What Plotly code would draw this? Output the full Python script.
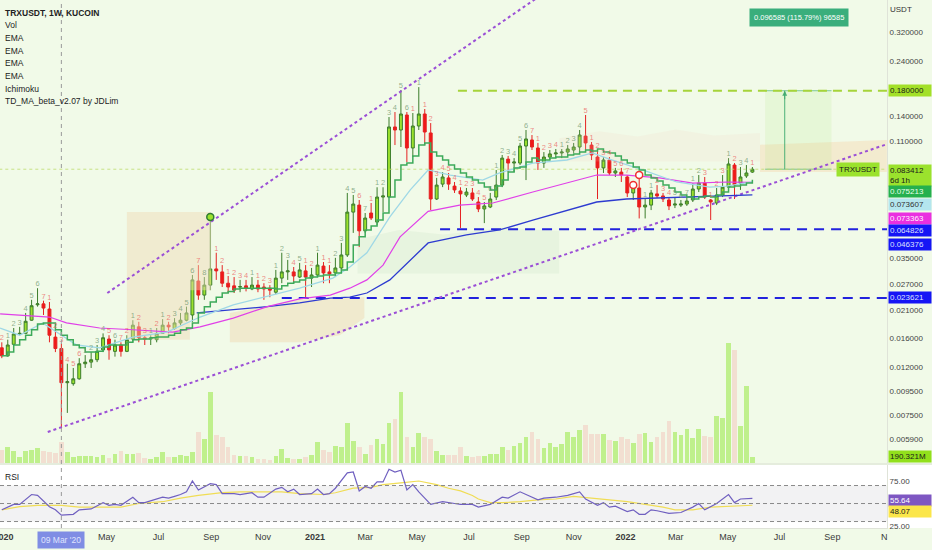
import math
import pandas as pd
import plotly.graph_objects as go

# ---------------- data ----------------
first_week = "2019-12-30"

opens = [0.0145, 0.0134, 0.0150, 0.0166, 0.0167, 0.0190, 0.0221, 0.0223, 0.0212, 0.0161,
         0.0144, 0.0103, 0.0102, 0.0107, 0.0124, 0.0126, 0.0129, 0.0142, 0.0158, 0.0140,
         0.0149, 0.0140, 0.0158, 0.0178, 0.0160, 0.0158, 0.0157, 0.0167, 0.0181, 0.0175,
         0.0185, 0.0190, 0.0200, 0.0279, 0.0243, 0.0268, 0.0314, 0.0305, 0.0273, 0.0266,
         0.0263, 0.0266, 0.0258, 0.0268, 0.0263, 0.0260, 0.0250, 0.0287, 0.0305, 0.0305,
         0.0290, 0.0308, 0.0287, 0.0296, 0.0323, 0.0305, 0.0302, 0.0317, 0.0360, 0.0548,
         0.0587, 0.0456, 0.0543, 0.0497, 0.0635, 0.0635, 0.1262, 0.1225, 0.1419, 0.1027,
         0.1274, 0.1433, 0.1190, 0.0623, 0.0721, 0.0766, 0.0707, 0.0674, 0.0648, 0.0661,
         0.0605, 0.0565, 0.0576, 0.0635, 0.0714, 0.0921, 0.0886, 0.0886, 0.1047, 0.1111,
         0.1027, 0.0886, 0.0940, 0.0969, 0.0978, 0.0987, 0.1007, 0.1037, 0.1154, 0.1057,
         0.0940, 0.0845, 0.0913, 0.0804, 0.0811, 0.0773, 0.0661, 0.0694, 0.0576, 0.0587,
         0.0655, 0.0642, 0.0617, 0.0587, 0.0587, 0.0593, 0.0617, 0.0687, 0.0728, 0.0617,
         0.0599, 0.0648, 0.0700, 0.0869, 0.0728, 0.0781, 0.0811]
highs = [0.0153, 0.0157, 0.0176, 0.0178, 0.0204, 0.0232, 0.0260, 0.0230, 0.0227, 0.0173,
         0.0151, 0.0124, 0.0119, 0.0131, 0.0135, 0.0139, 0.0149, 0.0167, 0.0164, 0.0157,
         0.0153, 0.0164, 0.0190, 0.0187, 0.0164, 0.0164, 0.0176, 0.0192, 0.0187, 0.0194,
         0.0204, 0.0217, 0.0296, 0.0326, 0.0290, 0.0522, 0.0368, 0.0326, 0.0293, 0.0290,
         0.0282, 0.0282, 0.0290, 0.0282, 0.0273, 0.0268, 0.0311, 0.0368, 0.0343, 0.0320,
         0.0333, 0.0326, 0.0317, 0.0368, 0.0336, 0.0326, 0.0350, 0.0405, 0.0661, 0.0648,
         0.0617, 0.0543, 0.0599, 0.0699, 0.0699, 0.1391, 0.1461, 0.1813, 0.1461, 0.1447,
         0.1865, 0.1505, 0.1311, 0.0766, 0.0811, 0.0804, 0.0736, 0.0699, 0.0694, 0.0694,
         0.0635, 0.0605, 0.0661, 0.0828, 0.0959, 0.0950, 0.0930, 0.1079, 0.1225, 0.1166,
         0.1079, 0.0987, 0.1007, 0.1017, 0.1017, 0.1057, 0.1079, 0.1225, 0.1419, 0.1089,
         0.1007, 0.0940, 0.0940, 0.0845, 0.0845, 0.0788, 0.0714, 0.0788, 0.0623, 0.0681,
         0.0714, 0.0661, 0.0635, 0.0635, 0.0617, 0.0635, 0.0728, 0.0788, 0.0773, 0.0623,
         0.0694, 0.0788, 0.0930, 0.0886, 0.0852, 0.0869, 0.0852]
lows = [0.0131, 0.0133, 0.0149, 0.0164, 0.0167, 0.0189, 0.0217, 0.0200, 0.0153, 0.0139,
        0.0066, 0.00766, 0.0100, 0.0106, 0.0119, 0.0119, 0.0126, 0.0139, 0.0129, 0.0133,
        0.0133, 0.0139, 0.0153, 0.0153, 0.0149, 0.0149, 0.0153, 0.0166, 0.0167, 0.0173,
        0.0181, 0.0188, 0.0187, 0.0232, 0.0232, 0.0255, 0.0282, 0.0263, 0.0248, 0.0248,
        0.0250, 0.0252, 0.0255, 0.0250, 0.0232, 0.0238, 0.0245, 0.0273, 0.0282, 0.0273,
        0.0287, 0.0236, 0.0263, 0.0290, 0.0273, 0.0273, 0.0290, 0.0311, 0.0353, 0.0447,
        0.0389, 0.0447, 0.0507, 0.0483, 0.0548, 0.0629, 0.1057, 0.1037, 0.0895, 0.0940,
        0.1225, 0.1057, 0.0559, 0.0617, 0.0700, 0.0681, 0.0661, 0.0469, 0.0635, 0.0611,
        0.0548, 0.0492, 0.0570, 0.0617, 0.0700, 0.0811, 0.0811, 0.0869, 0.0750, 0.1007,
        0.0828, 0.0845, 0.0913, 0.0930, 0.0930, 0.0959, 0.0978, 0.0978, 0.0987, 0.0913,
        0.0623, 0.0804, 0.0788, 0.0773, 0.0736, 0.0635, 0.0617, 0.0515, 0.0515, 0.0559,
        0.0629, 0.0605, 0.0559, 0.0570, 0.0576, 0.0582, 0.0605, 0.0667, 0.0623, 0.0507,
        0.0587, 0.0635, 0.0694, 0.0623, 0.0681, 0.0766, 0.0804]
closes = [0.0134, 0.0149, 0.0166, 0.0167, 0.0188, 0.0219, 0.0223, 0.0214, 0.0164, 0.0144,
          0.0103, 0.0104, 0.0107, 0.0124, 0.0126, 0.0129, 0.0140, 0.0160, 0.0142, 0.0149,
          0.0140, 0.0157, 0.0181, 0.0160, 0.0158, 0.0160, 0.0167, 0.0181, 0.0178, 0.0185,
          0.0190, 0.0204, 0.0282, 0.0243, 0.0268, 0.0314, 0.0308, 0.0273, 0.0263, 0.0255,
          0.0264, 0.0260, 0.0268, 0.0258, 0.0258, 0.0255, 0.0287, 0.0305, 0.0308, 0.0293,
          0.0311, 0.0290, 0.0296, 0.0326, 0.0302, 0.0299, 0.0317, 0.0360, 0.0548, 0.0593,
          0.0456, 0.0517, 0.0517, 0.0635, 0.0642, 0.1262, 0.1225, 0.1433, 0.1027, 0.1274,
          0.1433, 0.1201, 0.0623, 0.0714, 0.0773, 0.0721, 0.0681, 0.0655, 0.0667, 0.0623,
          0.0565, 0.0582, 0.0623, 0.0714, 0.0930, 0.0886, 0.0895, 0.1047, 0.1122, 0.1037,
          0.0886, 0.0940, 0.0969, 0.0978, 0.0987, 0.1017, 0.1037, 0.1166, 0.1079, 0.0959,
          0.0845, 0.0913, 0.0804, 0.0820, 0.0788, 0.0661, 0.0700, 0.0576, 0.0587, 0.0661,
          0.0642, 0.0623, 0.0582, 0.0593, 0.0593, 0.0611, 0.0687, 0.0728, 0.0635, 0.0605,
          0.0648, 0.0700, 0.0878, 0.0714, 0.0773, 0.0804, 0.083412]
volume_m = [450, 523, 412, 211, 401, 445, 501, 390, 356, 334,
            690, 356, 189, 223, 223, 223, 189, 278, 156, 300,
            401, 289, 300, 334, 156, 134, 189, 367, 189, 189,
            267, 223, 378, 1024, 801, 2382, 935, 857, 523, 267,
            223, 223, 189, 134, 134, 100, 223, 467, 156, 134,
            134, 189, 267, 690, 434, 356, 579, 545, 1336, 746,
            523, 300, 601, 801, 634, 1336, 1469, 2382, 857, 523,
            1002, 857, 801, 412, 267, 267, 267, 523, 223, 189,
            223, 245, 300, 289, 523, 434, 579, 668, 857, 1024,
            801, 490, 668, 523, 634, 1046, 857, 1113, 1269, 968,
            968, 968, 779, 746, 857, 801, 668, 968, 1002, 712,
            857, 1024, 1391, 1024, 935, 1135, 824, 1135, 913, 857,
            1580, 1491, 4000, 3770, 1247, 2560, 190.321]
td_ma = [0.0134, 0.0139, 0.0149, 0.0157, 0.0164, 0.0173, 0.0183, 0.0185, 0.0185, 0.0173,
         0.0164, 0.0157, 0.0149, 0.0145, 0.0139, 0.0139, 0.0140, 0.0146, 0.0149, 0.0149,
         0.0149, 0.0153, 0.0157, 0.0158, 0.0158, 0.0160, 0.0161, 0.0161, 0.0164, 0.0167,
         0.0173, 0.0176, 0.0185, 0.0204, 0.0217, 0.0227, 0.0238, 0.0248, 0.0252, 0.0258,
         0.0260, 0.0260, 0.0260, 0.0260, 0.0260, 0.0260, 0.0258, 0.0266, 0.0273, 0.0276,
         0.0282, 0.0287, 0.0290, 0.0293, 0.0296, 0.0296, 0.0302, 0.0311, 0.0336, 0.0397,
         0.0430, 0.0460, 0.0478, 0.0507, 0.0543, 0.0635, 0.0750, 0.0869, 0.0886, 0.0950,
         0.1057, 0.1079, 0.0987, 0.0950, 0.0913, 0.0869, 0.0836, 0.0804, 0.0773, 0.0750,
         0.0728, 0.0700, 0.0681, 0.0707, 0.0750, 0.0811, 0.0845, 0.0852, 0.0895, 0.0930,
         0.0913, 0.0913, 0.0930, 0.0940, 0.0940, 0.0959, 0.0969, 0.0987, 0.1007, 0.0997,
         0.1017, 0.0987, 0.0978, 0.0950, 0.0913, 0.0886, 0.0852, 0.0828, 0.0788, 0.0766,
         0.0743, 0.0714, 0.0694, 0.0667, 0.0648, 0.0635, 0.0623, 0.0635, 0.0642, 0.0635,
         0.0648, 0.0667, 0.0700, 0.0707, 0.0714, 0.0728, 0.075213]

# TD count digits above the candles ("g" = grey-green, "r" = red)
td_count = ["2", "1", "2", "3", "4", "5", "6", "7", "1", "2",
            "3", "4", "5", "6", "1", "2", "3", "4", "5", "6",
            "7", "2", "1", "2", "3", "1", "2", "1", "2", "3",
            "4", "5", "6", "7", "8", "", "1", "2", "1", "2",
            "3", "4", "1", "1", "2", "3", "1", "2", "3", "4",
            "5", "1", "2", "1", "1", "1", "2", "3", "4", "5",
            "6", "7", "1", "1", "2", "3", "4", "5", "6", "1",
            "1", "1", "2", "3", "4", "5", "4", "1", "2", "3",
            "4", "5", "6", "1", "2", "3", "4", "5", "6", "7",
            "1", "2", "3", "4", "1", "2", "3", "4", "5", "1",
            "2", "3", "4", "5", "6", "7", "", "", "1", "1",
            "2", "3", "4", "5", "6", "7", "1", "2", "3", "1",
            "2", "3", "1", "2", "3", "4", "1"]
td_kind = ["r", "g", "g", "g", "g", "g", "g", "r", "r", "r",
           "r", "r", "r", "r", "g", "g", "g", "g", "r", "g",
           "r", "r", "g", "r", "r", "g", "r", "g", "r", "g",
           "g", "g", "g", "r", "g", "g", "r", "r", "r", "r",
           "r", "r", "g", "r", "r", "r", "g", "g", "g", "r",
           "g", "r", "r", "g", "r", "r", "g", "g", "g", "g",
           "r", "g", "r", "g", "g", "g", "g", "g", "g", "r",
           "g", "r", "r", "r", "r", "r", "r", "r", "r", "r",
           "r", "r", "g", "g", "g", "g", "g", "g", "g", "r",
           "r", "r", "r", "r", "g", "g", "g", "g", "r", "r",
           "r", "r", "r", "r", "r", "r", "r", "r", "g", "g",
           "r", "r", "r", "g", "g", "g", "g", "g", "r", "r",
           "r", "r", "g", "r", "g", "g", "r"]
td_circle_weeks = [36, 107, 108]
td_circle_kind = ["g", "r", "r"]

ema_light_dates = ["2019-12-28", "2020-01-20", "2020-02-16", "2020-03-27", "2020-04-23", "2020-06-01",
                   "2020-07-11", "2020-08-19", "2020-09-27", "2020-11-06", "2020-12-14", "2021-01-22",
                   "2021-02-11", "2021-03-03", "2021-03-30", "2021-04-23", "2021-05-14", "2021-06-09",
                   "2021-07-17", "2021-08-06", "2021-09-14", "2021-10-24", "2021-11-23", "2021-12-13",
                   "2022-01-21", "2022-03-02", "2022-04-10", "2022-04-30", "2022-05-30"]
ema_light = [0.0176, 0.0164, 0.0185, 0.0149, 0.0145, 0.0161, 0.0169, 0.0196, 0.0221, 0.0241,
             0.0260, 0.0287, 0.0320, 0.0368, 0.0523, 0.0681, 0.0828, 0.0788, 0.0750, 0.0804,
             0.0886, 0.0913, 0.0978, 0.0921, 0.0828, 0.0736, 0.0700, 0.0707, 0.073607]
ema_pink_dates = ["2019-12-28", "2020-02-24", "2020-03-15", "2020-04-23", "2020-06-01", "2020-07-18",
                  "2020-08-19", "2020-09-27", "2020-11-06", "2020-12-14", "2021-01-19", "2021-02-11",
                  "2021-03-03", "2021-03-22", "2021-04-11", "2021-05-14", "2021-06-20", "2021-07-29",
                  "2021-09-14", "2021-10-24", "2021-11-28", "2022-01-02", "2022-02-10", "2022-03-21",
                  "2022-04-30", "2022-05-30"]
ema_pink = [0.0202, 0.0196, 0.0185, 0.0176, 0.0173, 0.0169, 0.0178, 0.0194, 0.0217, 0.0234,
            0.0243, 0.0260, 0.0282, 0.0326, 0.0430, 0.0552, 0.0587, 0.0599, 0.0667, 0.0728,
            0.0788, 0.0788, 0.0766, 0.0728, 0.0736, 0.073363]
ema_blue_dates = ["2020-08-15", "2020-09-27", "2020-11-06", "2020-12-14", "2021-01-19", "2021-02-11",
                  "2021-03-03", "2021-03-30", "2021-04-23", "2021-05-14", "2021-06-28", "2021-08-06",
                  "2021-09-14", "2021-10-24", "2021-11-28", "2022-01-02", "2022-02-10", "2022-03-21",
                  "2022-04-30", "2022-05-30"]
ema_blue = [0.0204, 0.0210, 0.0217, 0.0225, 0.0236, 0.0238, 0.0248, 0.0282, 0.0343, 0.0405,
            0.0438, 0.0460, 0.0507, 0.0559, 0.0605, 0.0623, 0.0629, 0.0635, 0.0642, 0.064826]

rsi_weeks = [1, 3, 4, 6, 7, 9, 10, 11, 13, 14, 16, 18, 19, 20, 21, 23, 24, 25, 28, 29,
             30, 31, 32, 33, 34, 36, 37, 38, 40, 41, 43, 44, 45, 47, 48, 49, 50, 51, 53, 54,
             55, 56, 57, 59, 60, 61, 62, 63, 64, 65, 66, 67, 68, 69, 70, 71, 73, 75, 77, 78,
             80, 81, 83, 85, 86, 88, 91, 92, 94, 96, 98, 99, 101, 102, 103, 104, 106, 107, 108, 109,
             110, 111, 113, 115, 117, 118, 119, 121, 123, 124, 125, 127]
rsi_vals = [43, 49, 49, 60, 59, 46.5, 43, 37, 38, 43, 44, 51, 48, 49, 48, 57, 51, 51, 57, 56,
            58, 60, 63, 75, 65, 72, 71, 61, 61, 60, 62, 57, 57, 66, 68, 63, 66, 60, 61, 66,
            60, 61, 67, 84, 85, 64, 69, 67, 74, 74, 88, 85, 87, 65, 71, 63, 49, 52, 50, 49,
            49, 46, 49, 57, 56, 63, 54, 56, 57, 59, 63, 55, 48, 51, 46, 47, 41, 43, 38, 38,
            43, 42, 39, 40, 46, 50, 43, 50, 60, 51, 55, 55.64]
rsi_ma_weeks = [1, 4, 7, 11, 14, 17, 21, 24, 28, 31, 34, 38, 41, 45, 48, 51, 55, 57, 60, 63,
                65, 68, 71, 74, 76, 78, 80, 81, 83, 85, 88, 91, 94, 97, 100, 103, 106, 109, 112, 114,
                117, 120, 123, 127]
rsi_ma_vals = [43, 46.5, 48, 48, 46, 46, 46, 50, 52, 56, 59, 62, 63, 63, 63, 61, 60, 62, 67, 68,
               71, 73, 75, 71, 67, 64, 59, 55, 51, 51, 52, 54, 55, 58, 56, 54, 52, 49, 46, 43,
               43, 46, 47, 48.07]

price_ticks = [0.32, 0.24, 0.14, 0.11, 0.035, 0.027, 0.021, 0.016, 0.012, 0.0095, 0.0075, 0.0059]
time_ticks = ["2020-01-01", "2020-05-01", "2020-07-01", "2020-09-01", "2020-11-01", "2021-01-01",
              "2021-03-01", "2021-05-01", "2021-07-01", "2021-09-01", "2021-11-01", "2022-01-01",
              "2022-03-01", "2022-05-01", "2022-07-01", "2022-09-01", "2022-11-01"]
time_labels = ["<b>2020</b>", "May", "Jul", "Sep", "Nov", "<b>2021</b>", "Mar", "May", "Jul", "Sep",
               "Nov", "<b>2022</b>", "Mar", "May", "Jul", "Sep", "N"]

# drawings (dates / prices)
upper_channel_dates = ["2020-05-02", "2021-09-22"]
upper_channel_prices = [0.0248, 0.455]
lower_channel_dates = ["2020-02-22", "2022-11-04"]
lower_channel_prices = [0.006356, 0.1066]
level_target = 0.18
level_target_start = "2021-06-18"
level_mid = 0.046376
level_mid_start = "2021-05-28"
level_low = 0.023621
level_low_start = "2020-11-23"
last_price = 0.083412
measure_dates = ["2022-06-14", "2022-08-31"]
measure_arrow_date = "2022-07-07"
measure_label_date = "2022-07-24"
crosshair_date = "2020-03-09"

# Ichimoku cloud outlines (dates, prices)
cloud_a_dates = ["2020-05-25", "2020-09-01", "2020-09-01", "2020-08-07", "2020-08-07", "2020-05-25"]
cloud_a_prices = [0.0548, 0.0548, 0.0255, 0.0255, 0.0157, 0.0157]
cloud_b_dates = ["2020-09-23", "2020-12-14", "2021-02-28", "2021-02-28", "2021-01-30", "2020-12-14",
                 "2020-09-23"]
cloud_b_prices = [0.0204, 0.0232, 0.0238, 0.0194, 0.0164, 0.0153, 0.0153]
cloud_c_dates = ["2021-02-20", "2021-04-10", "2021-06-01", "2021-08-10", "2021-10-15",
                 "2021-10-15", "2021-02-20"]
cloud_c_prices = [0.0420, 0.0460, 0.0440, 0.0470, 0.0455, 0.0300, 0.0300]
cloud_d_dates = ["2021-10-15", "2021-12-01", "2022-01-15", "2022-03-01", "2022-04-15", "2022-06-08",
                 "2022-06-08", "2021-10-15"]
cloud_d_prices = [0.1130, 0.1210, 0.1150, 0.1230, 0.1160, 0.1190, 0.0900, 0.0900]
cloud_e_dates = ["2022-06-08", "2022-11-04", "2022-11-04", "2022-06-08"]
cloud_e_prices = [0.1060, 0.1110, 0.0811, 0.0811]

# ---------------- figure ----------------
dates = pd.date_range(first_week, periods=len(closes), freq="7D")
FONT = "Liberation Sans, Arial, sans-serif"
BG = "#f1fae8"
W, H, PLOT_W, PLOT_H = 932, 550, 887, 528

fig = go.Figure()


def cloud(xs, ys, color):
    fig.add_trace(go.Scatter(x=xs, y=ys, fill="toself", fillcolor=color, mode="none",
                             yaxis="y", hoverinfo="skip", showlegend=False))


cloud(cloud_a_dates, cloud_a_prices, "rgba(240,218,180,0.45)")
cloud(cloud_b_dates, cloud_b_prices, "rgba(240,218,180,0.50)")
cloud(cloud_c_dates, cloud_c_prices, "rgba(150,195,150,0.10)")
cloud(cloud_d_dates, cloud_d_prices, "rgba(240,210,190,0.16)")
cloud(cloud_e_dates, cloud_e_prices, "rgba(246,205,160,0.35)")

# volume
vol_colors = ["rgba(165,235,90,0.65)" if c >= o else "rgba(242,200,190,0.55)" for o, c in zip(opens, closes)]
fig.add_trace(go.Bar(x=dates, y=volume_m, marker=dict(color=vol_colors, line=dict(width=0)),
                     width=7 * 24 * 3600 * 1000 * 0.78, yaxis="y2", hoverinfo="skip", showlegend=False))

# measurement box
fig.add_trace(go.Scatter(x=[measure_dates[0], measure_dates[1], measure_dates[1], measure_dates[0]],
                         y=[last_price, last_price, level_target, level_target], fill="toself",
                         fillcolor="rgba(185,232,140,0.18)", mode="none", yaxis="y", showlegend=False))
for lvl in (last_price, level_target):
    fig.add_trace(go.Scatter(x=measure_dates, y=[lvl, lvl], mode="lines",
                             line=dict(color="rgba(80,180,120,0.7)", width=1), yaxis="y", showlegend=False))
fig.add_trace(go.Scatter(x=[measure_arrow_date, measure_arrow_date], y=[last_price, level_target], mode="lines",
                         line=dict(color="rgba(60,170,110,0.9)", width=1), yaxis="y", showlegend=False))

# last price line
fig.add_trace(go.Scatter(x=[dates[0] - pd.Timedelta(days=10), "2022-11-10"], y=[last_price, last_price],
                         mode="lines", line=dict(color="rgba(190,220,110,0.8)", width=1, dash="dot"),
                         yaxis="y", showlegend=False))

# horizontal levels
fig.add_trace(go.Scatter(x=[level_target_start, "2022-11-10"], y=[level_target, level_target], mode="lines",
                         line=dict(color="#a6d43a", width=2, dash="9px,6px"), yaxis="y", showlegend=False))
fig.add_trace(go.Scatter(x=[level_mid_start, "2022-11-10"], y=[level_mid, level_mid], mode="lines",
                         line=dict(color="#2222dd", width=2, dash="10px,7px"), yaxis="y", showlegend=False))
fig.add_trace(go.Scatter(x=[level_low_start, "2022-11-10"], y=[level_low, level_low], mode="lines",
                         line=dict(color="#2222dd", width=2, dash="10px,7px"), yaxis="y", showlegend=False))

# trend channel
fig.add_trace(go.Scatter(x=upper_channel_dates, y=upper_channel_prices, mode="lines",
                         line=dict(color="#9b4fd6", width=2, dash="dot"), yaxis="y", showlegend=False))
fig.add_trace(go.Scatter(x=lower_channel_dates, y=lower_channel_prices, mode="lines",
                         line=dict(color="#9b4fd6", width=2, dash="dot"), yaxis="y", showlegend=False))

# EMAs
fig.add_trace(go.Scatter(x=ema_blue_dates, y=ema_blue, mode="lines", line=dict(color="#2d3bd0", width=1.3),
                         yaxis="y", showlegend=False))
fig.add_trace(go.Scatter(x=ema_pink_dates, y=ema_pink, mode="lines", line=dict(color="#e040e8", width=1.2),
                         yaxis="y", showlegend=False))
fig.add_trace(go.Scatter(x=ema_light_dates, y=ema_light, mode="lines", line=dict(color="#9fd8e6", width=1.3),
                         yaxis="y", showlegend=False))
fig.add_trace(go.Scatter(x=dates, y=td_ma, mode="lines", line=dict(color="#3daa5a", width=1.5, shape="hv"),
                         yaxis="y", showlegend=False))

# candles
fig.add_trace(go.Candlestick(x=dates, open=opens, high=highs, low=lows, close=closes,
                             increasing=dict(fillcolor="#9be22d", line=dict(color="#3b7d2b", width=1)),
                             decreasing=dict(fillcolor="#f01818", line=dict(color="#e52222", width=1)),
                             whiskerwidth=0, yaxis="y", showlegend=False, hoverinfo="skip"))

# TD counts above the candles
kind_color = {"g": "rgba(110,150,110,0.75)", "r": "rgba(235,95,95,0.75)"}
fig.add_trace(go.Scatter(x=dates, y=highs, mode="text", text=td_count, textposition="top center",
                         textfont=dict(size=7.5, color=[kind_color[k] for k in td_kind]),
                         yaxis="y", hoverinfo="skip", showlegend=False))
fig.add_trace(go.Scatter(x=[dates[w - 1] for w in td_circle_weeks], y=[highs[w - 1] for w in td_circle_weeks],
                         mode="markers",
                         marker=dict(size=7, symbol="circle",
                                     color=["#9be22d" if k == "g" else "#ffffff" for k in td_circle_kind],
                                     line=dict(width=1.5, color=["#2e7d32" if k == "g" else "#f03030"
                                                                 for k in td_circle_kind])),
                         yaxis="y", hoverinfo="skip", showlegend=False))

# RSI
fig.add_trace(go.Scatter(x=[dates[w - 1] for w in rsi_ma_weeks], y=rsi_ma_vals, mode="lines",
                         line=dict(color="#f0dd55", width=1.2), yaxis="y3", showlegend=False))
fig.add_trace(go.Scatter(x=[dates[w - 1] for w in rsi_weeks], y=rsi_vals, mode="lines",
                         line=dict(color="#7060c0", width=1.2), yaxis="y3", showlegend=False))

# ---------------- layout ----------------
price_top = 0.32 * 10 ** (32 / 235)
price_bot = 0.32 * 10 ** (-(463 - 32) / 235)
x_left = pd.Timestamp("2020-01-01") - pd.Timedelta(days=3.5 / 0.851)
x_right = x_left + pd.Timedelta(days=PLOT_W / 0.851)
dom_price = [1 - 463 / PLOT_H, 1]
dom_rsi = [0, 63 / PLOT_H]

fig.update_layout(
    width=W, height=H, margin=dict(l=0, r=W - PLOT_W, t=0, b=H - PLOT_H, autoexpand=False),
    paper_bgcolor=BG, plot_bgcolor=BG,
    font=dict(family=FONT, size=9, color="#333333"),
    showlegend=False, bargap=0, hovermode=False, dragmode=False,
    xaxis=dict(type="date", range=[x_left, x_right], anchor="y3", rangeslider=dict(visible=False),
               tickmode="array", tickvals=time_ticks, ticktext=time_labels, showgrid=False,
               zeroline=False, showline=True, linecolor="#dfe3d8", ticks="", automargin=False,
               ticklabeloverflow="allow", tickfont=dict(size=9, color="#3a3a3a")),
    yaxis=dict(type="log", domain=dom_price, range=[math.log10(price_bot), math.log10(price_top)],
               side="right", tickmode="array", tickvals=price_ticks, automargin=False,
               ticktext=[f"{v:.6f}" for v in price_ticks], showgrid=False, zeroline=False,
               showline=True, linecolor="#dfe3d8", ticks="", tickfont=dict(size=8, color="#444444")),
    yaxis2=dict(overlaying="y", range=[0, 463 * 33.4], visible=False, showgrid=False, automargin=False),
    yaxis3=dict(domain=dom_rsi, range=[22.8, 92.8], side="right", tickmode="array", automargin=False,
                tickvals=[75, 25], ticktext=["75.00", "25.00"], showgrid=False, zeroline=False,
                showline=True, linecolor="#dfe3d8", ticks="", tickfont=dict(size=8, color="#444444")),
)

shapes = [
    dict(type="rect", xref="paper", yref="paper", x0=0, x1=W / PLOT_W, y0=dom_rsi[0], y1=dom_rsi[1],
         fillcolor="#ffffff", line=dict(width=0), layer="below"),
    dict(type="rect", xref="paper", yref="y3", x0=0, x1=1, y0=30, y1=70,
         fillcolor="rgba(150,150,160,0.12)", line=dict(width=0), layer="below"),
    dict(type="line", xref="paper", yref="paper", x0=0, x1=W / PLOT_W, y0=dom_price[0] - 1 / PLOT_H,
         y1=dom_price[0] - 1 / PLOT_H, line=dict(color="#d9dfd2", width=1)),
    dict(type="line", xref="x", yref="paper", x0=crosshair_date, x1=crosshair_date, y0=0, y1=1,
         line=dict(color="#9a9a9a", width=1, dash="4px,4px")),
]
for lvl in (70, 50, 30):
    shapes.append(dict(type="line", xref="paper", yref="y3", x0=0, x1=1, y0=lvl, y1=lvl,
                       line=dict(color="#8a8a8a", width=1, dash="4px,3px")))
fig.update_layout(shapes=shapes)

ann = []
legend_lines = ["<b>TRXUSDT, 1W, KUCOIN</b>", "Vol", "EMA", "EMA", "EMA", "EMA", "Ichimoku",
                "TD_MA_beta_v2.07 by JDLim"]
legend_y = [13, 25, 38, 51, 63, 76, 89, 101]
for t, py in zip(legend_lines, legend_y):
    ann.append(dict(text=t, xref="paper", yref="paper", x=3 / PLOT_W, y=1 - py / PLOT_H, xanchor="left",
                    yanchor="middle", showarrow=False, font=dict(size=8.5, color="#222222")))
ann.append(dict(text="RSI", xref="paper", yref="paper", x=3 / PLOT_W, y=1 - 477 / PLOT_H, xanchor="left",
                yanchor="middle", showarrow=False, font=dict(size=8.5, color="#222222")))
ann.append(dict(text="USDT", xref="paper", yref="paper", x=1 + 1 / PLOT_W, y=1 - 10 / PLOT_H,
                xanchor="left", yanchor="middle", showarrow=False, font=dict(size=8, color="#333333")))


def plabel(value, text, bg, fg, shift, axis="y", log=True):
    ann.append(dict(text=text, xref="paper", yref=axis, x=1 + 1 / PLOT_W,
                    y=math.log10(value) if log else value, yshift=shift, xanchor="left",
                    yanchor="middle", showarrow=False, bgcolor=bg, borderpad=1, width=40, align="left",
                    font=dict(size=8, color=fg)))


plabel(level_target, "0.180000", "#a3e028", "#1a1a1a", 0)
plabel(last_price, "0.083412<br>6d 1h", "#9be22d", "#1a1a1a", -6)
plabel(td_ma[-1], "0.075213", "#25b04e", "#e8ffe8", -12)
plabel(ema_light[-1], "0.073607", "#b4e6ee", "#333333", -23)
plabel(ema_pink[-1], "0.073363", "#ea2fe0", "#fff0ff", -36)
plabel(ema_blue[-1], "0.064826", "#1515f5", "#dde0ff", -36)
plabel(level_mid, "0.046376", "#1515f5", "#dde0ff", -15)
plabel(level_low, "0.023621", "#1515f5", "#dde0ff", 0)
plabel(rsi_vals[-1], "55.64", "#7e57c2", "#ffffff", -2, axis="y3", log=False)
plabel(rsi_ma_vals[-1], "48.07", "#fbe64a", "#222222", -6, axis="y3", log=False)
ann.append(dict(text="190.321M", xref="paper", yref="paper", x=1 + 1 / PLOT_W, y=1 - 456 / PLOT_H,
                xanchor="left", yanchor="middle", showarrow=False, bgcolor="#92e01c", borderpad=1,
                width=40, align="left", font=dict(size=8, color="#1a1a1a")))
ann.append(dict(text="TRXUSDT", xref="paper", yref="y", x=880 / PLOT_W, y=math.log10(last_price),
                xanchor="right", yanchor="middle", showarrow=False, bgcolor="#9be22d", borderpad=2,
                font=dict(size=8, color="#1a1a1a")))
# measurement label + arrow head
ann.append(dict(text="0.096585 (115.79%) 96585", xref="x", yref="paper", x=measure_label_date,
                y=1 - 17.5 / PLOT_H, xanchor="center", yanchor="middle", showarrow=False,
                bgcolor="#3aae7c", borderpad=4, font=dict(size=7.5, color="#ffffff")))
ann.append(dict(text="", xref="x", yref="y", x=measure_arrow_date, y=math.log10(level_target),
                showarrow=True, ax=0, ay=10, arrowhead=2, arrowsize=1, arrowwidth=1,
                arrowcolor="rgba(60,170,110,0.9)"))
# crosshair date label
ann.append(dict(text="09 Mar '20", xref="x", yref="paper", x=crosshair_date, y=-12 / PLOT_H,
                xanchor="center", yanchor="middle", showarrow=False, bgcolor="#7f8de4", borderpad=3,
                font=dict(size=8.5, color="#dfe4ff")))
fig.update_layout(annotations=ann)

fig.write_html("out.html", config={"displayModeBar": False, "staticPlot": True},
               post_script="document.body.style.margin='0px';document.body.style.overflow='hidden';")
